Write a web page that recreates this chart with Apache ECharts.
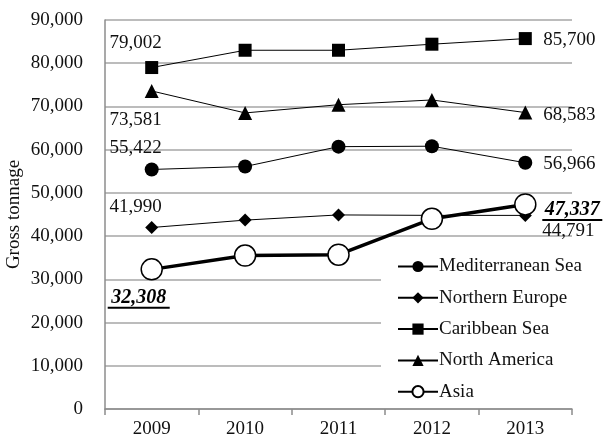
<!DOCTYPE html>
<html>
<head>
<meta charset="utf-8">
<script src="https://cdn.jsdelivr.net/npm/echarts@6/dist/echarts.min.js"></script>
<style>
  html, body { margin: 0; padding: 0; background: #fff; }
  #chart { width: 603px; height: 440px; }
</style>
</head>
<body>
<div id="chart"></div>
<script>
// Cruise fleet gross tonnage by region, 2009-2013
const years = ['2009', '2010', '2011', '2012', '2013'];
const mediterranean = [55422, 56100, 60700, 60800, 56966];
const northernEurope = [41990, 43700, 44900, 44800, 44791];
const caribbean = [79002, 83000, 83000, 84400, 85700];
const northAmerica = [73581, 68500, 70400, 71500, 68583];
const asia = [32308, 35500, 35700, 44000, 47337];
const yMin = 0, yMax = 90000, yStep = 10000;

const FONT = '"Liberation Serif", "Times New Roman", serif';
const FS = 19;
const fmt = v => v.toLocaleString('en-US');

// plain end-point label
function plainLabel(offset) {
  return {
    show: true, position: 'inside', offset: offset,
    fontFamily: FONT, fontSize: FS, color: '#111',
    formatter: p => fmt(p.value)
  };
}
// bold italic underlined label (Asia)
function emphLabel(offset, ulWidth) {
  return {
    show: true, position: 'inside', offset: offset,
    formatter: p => '{v|' + fmt(p.value) + '}\n{u|}',
    rich: {
      v: { fontFamily: FONT, fontSize: 20, fontWeight: 'bold', fontStyle: 'italic', color: '#000', lineHeight: 17 },
      u: { width: ulWidth, height: 2, backgroundColor: '#000', lineHeight: 3 }
    }
  };
}

function withLabels(values, labels) {
  return values.map((v, i) => labels[i] ? { value: v, label: labels[i] } : v);
}

function lineSeries(name, values, symbol, size, labels) {
  return {
    name: name, type: 'line', data: withLabels(values, labels),
    symbol: symbol, symbolSize: size, showAllSymbol: true,
    lineStyle: { color: '#000', width: 1 },
    itemStyle: { color: '#000', borderColor: '#000', borderWidth: 0 },
    label: { show: false }, emphasis: { disabled: true }, z: 3
  };
}

const chart = echarts.init(document.getElementById('chart'), null, { renderer: 'canvas' });
chart.setOption({
  animation: false,
  backgroundColor: '#fff',
  textStyle: { fontFamily: FONT },
  grid: { left: 105, right: 31, top: 20, bottom: 31, containLabel: false, outerBoundsMode: 'none' },
  legend: {
    orient: 'vertical', left: 381, top: 252,
    backgroundColor: '#fff', padding: [5, 14, 6, 16],
    itemWidth: 40, itemHeight: 14, itemGap: 12.3,
    textStyle: { fontFamily: FONT, fontSize: FS, color: '#111', padding: [0, 0, 0, -4] },
    data: ['Mediterranean Sea', 'Northern Europe', 'Caribbean Sea', 'North America', 'Asia']
  },
  xAxis: {
    type: 'category', data: years, boundaryGap: true,
    axisLine: { lineStyle: { color: '#8c8c8c', width: 1.5 } },
    axisTick: { show: true, length: 6, lineStyle: { color: '#8c8c8c', width: 1.5 } },
    axisLabel: { fontFamily: FONT, fontSize: FS, color: '#111', margin: 11 },
    splitLine: { show: false }
  },
  yAxis: {
    type: 'value', min: yMin, max: yMax, interval: yStep,
    name: 'Gross tonnage', nameLocation: 'middle', nameGap: 81, nameRotate: 90,
    nameMoveOverlap: false,
    nameTextStyle: { fontFamily: FONT, fontSize: FS, color: '#111' },
    axisLine: { show: true, lineStyle: { color: '#8c8c8c', width: 1.5 } },
    axisTick: { show: false },
    axisLabel: { fontFamily: FONT, fontSize: FS, color: '#111', margin: 22, formatter: v => fmt(v) },
    splitLine: { lineStyle: { color: '#a6a6a6', width: 1.5 } }
  },
  series: [
    lineSeries('Mediterranean Sea', mediterranean, 'circle', 14,
      [plainLabel([-16, -21]), null, null, null, plainLabel([44, 1])]),
    lineSeries('Northern Europe', northernEurope, 'diamond', 13,
      [plainLabel([-16, -20]), null, null, null, plainLabel([43, 16])]),
    lineSeries('Caribbean Sea', caribbean, 'rect', 13,
      [plainLabel([-16, -25]), null, null, null, plainLabel([44, 1])]),
    lineSeries('North America', northAmerica, 'triangle', 14,
      [plainLabel([-16, 29]), null, null, null, plainLabel([44, 2])]),
    {
      name: 'Asia', type: 'line',
      data: withLabels(asia, [emphLabel([-13, 30], 62), null, null, null, emphLabel([47, 7], 60)]),
      symbol: 'circle', symbolSize: 21, showAllSymbol: true,
      lineStyle: { color: '#000', width: 3.5 },
      itemStyle: { color: '#fff', borderColor: '#000', borderWidth: 1.5 },
      label: { show: false }, emphasis: { disabled: true }, z: 4
    }
  ]
});
</script>
</body>
</html>
